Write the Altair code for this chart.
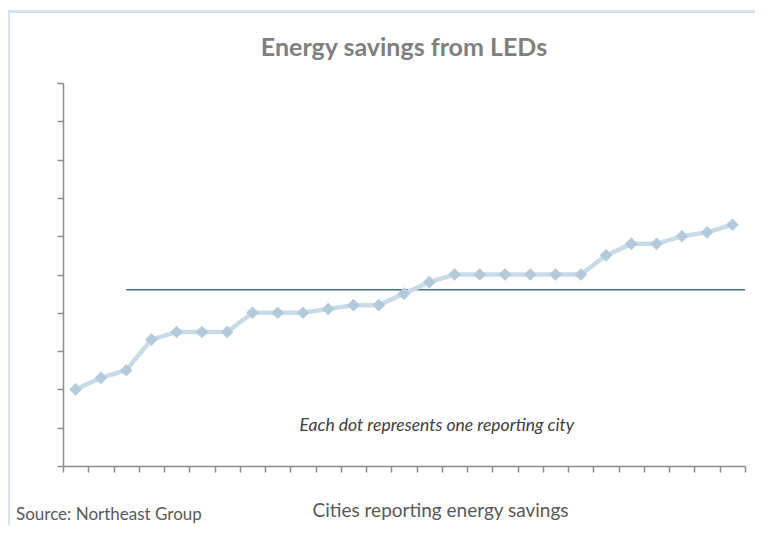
import altair as alt
import pandas as pd

# Data
cities = list(range(1, 28))
savings = [2.0, 2.3, 2.5, 3.3, 3.5, 3.5, 3.5, 4.0, 4.0, 4.0, 4.1, 4.2, 4.2, 4.5,
           4.8, 5.0, 5.0, 5.0, 5.0, 5.0, 5.0, 5.5, 5.8, 5.8, 6.0, 6.1, 6.3]
avg_start = [3]
avg_end = [27.5]
avg_value = [4.6]
note_text = ["Each dot represents one reporting city"]
note_x = [15.3]
note_y = [1.04]
x_ticks = [0.5 + k for k in range(28)]
y_ticks = list(range(0, 11))

W, H = 682, 383

df = pd.DataFrame({"city": cities, "savings": savings})
avg_df = pd.DataFrame({"x": avg_start, "x2": avg_end, "y": avg_value})
note_df = pd.DataFrame({"x": note_x, "y": note_y, "t": note_text})

xscale = alt.Scale(domain=[0.5, 27.5], nice=False, zero=False)
yscale = alt.Scale(domain=[0, 10], nice=False)

axis_common = dict(labels=False, grid=False, domainColor="#8c8c8c", tickColor="#8c8c8c",
                   domainWidth=1.5, tickWidth=1.5, tickSize=6, labelOverlap=False,
                   tickCount=40)

line = alt.Chart(df).mark_line(
    color="#c9dbe7", strokeWidth=4.5,
    point=alt.OverlayMarkDef(shape="diamond", size=160, filled=True, color="#b3cadb", opacity=1)
).encode(
    x=alt.X("city:Q", scale=xscale,
            axis=alt.Axis(values=x_ticks, title="Cities reporting energy savings",
                          titleFont="Lato", titleFontSize=19, titleFontWeight="normal",
                          titleColor="#595959", titleX=377, titleY=50,
                          titleAlign="center", titleBaseline="alphabetic", **axis_common)),
    y=alt.Y("savings:Q", scale=yscale,
            axis=alt.Axis(values=y_ticks, title=None, **axis_common)),
)

avg = alt.Chart(avg_df).mark_rule(color="#4a6e8a", strokeWidth=1.5).encode(
    x="x:Q", x2="x2:Q", y="y:Q"
)

note = alt.Chart(note_df).mark_text(
    font="Lato", fontSize=17.5, fontStyle="italic", color="#404040", align="center", baseline="middle"
).encode(x="x:Q", y="y:Q", text="t:N")

src = alt.Chart(pd.DataFrame({"t": ["Source: Northeast Group"]})).mark_text(
    font="Lato", fontSize=17, color="#595959", align="left", baseline="alphabetic"
).encode(x=alt.value(-47), y=alt.value(437), text="t:N")

ttl = alt.Chart(pd.DataFrame({"t": ["Energy savings from LEDs"]})).mark_text(
    font="Lato", fontSize=25, fontWeight="bold", color="#7f7f7f", align="center", baseline="alphabetic"
).encode(x=alt.value(W / 2), y=alt.value(-27), text="t:N")

frame_top = alt.Chart(pd.DataFrame({"a": [0]})).mark_rule(
    color="#d6e2ec", strokeWidth=3, clip=False
).encode(x=alt.value(-55), x2=alt.value(W + 10), y=alt.value(-71.5))

frame_left = alt.Chart(pd.DataFrame({"a": [0]})).mark_rule(
    color="#d6e2ec", strokeWidth=3, clip=False
).encode(x=alt.value(-54.5), y=alt.value(-73), y2=alt.value(H + 60))

chart = alt.layer(frame_top, frame_left, avg, line, note, src, ttl).properties(
    width=W, height=H,
    autosize=alt.AutoSizeParams(type="none"),
    padding={"left": 55, "top": 75, "right": 10, "bottom": 59},
).configure_view(stroke=None)

chart.save("out.html", embed_options={"renderer": "svg", "actions": False})
